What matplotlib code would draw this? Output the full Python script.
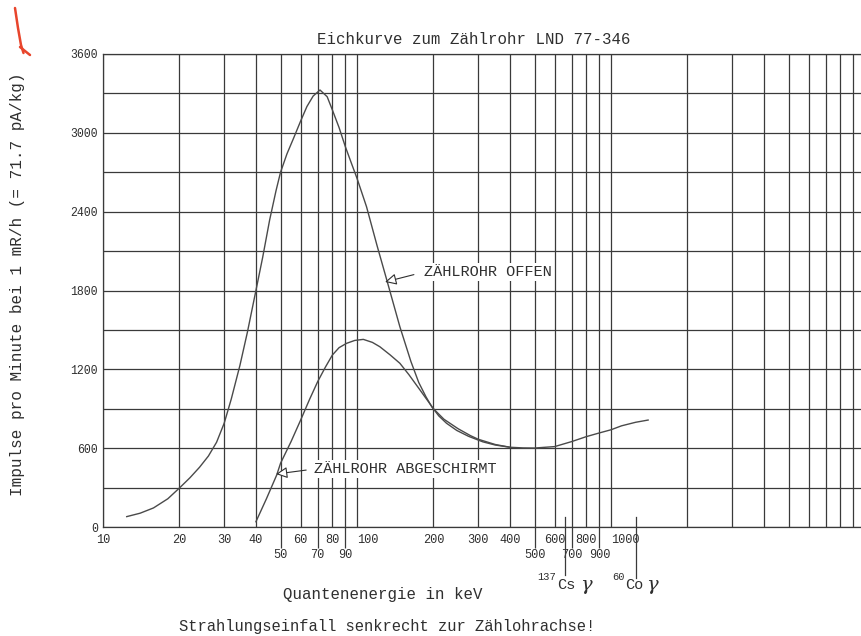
import matplotlib
matplotlib.use("Agg")
import matplotlib.pyplot as plt
from matplotlib.ticker import FixedLocator, FixedFormatter
from matplotlib.lines import Line2D
import matplotlib.transforms as mtransforms

plt.rcParams['font.family'] = ['Liberation Mono', 'DejaVu Sans Mono']

# ---------------- data ----------------
energy_open = [12.4, 14, 15.8, 18, 20, 22, 24, 26, 28, 30, 32, 34.6, 37, 40,
               42.5, 45.3, 48, 50, 53, 56.3, 60, 63.5, 67.2, 71.5, 76.3, 80,
               85, 90, 95, 100, 109, 120, 131, 147.5, 163, 175, 187, 197, 210,
               225, 247, 275, 313, 350, 400, 450, 500, 600, 700, 800, 900,
               1000, 1100, 1250, 1400]
counts_open = [79, 105, 145, 215, 297, 375, 455, 540, 645, 790, 975, 1230,
               1480, 1800, 2050, 2337, 2560, 2700, 2840, 2960, 3090, 3200,
               3280, 3326, 3275, 3174, 3040, 2894, 2770, 2654, 2438, 2140,
               1880, 1524, 1260, 1100, 990, 915, 845, 790, 735, 690, 648, 624,
               607, 602, 601, 612, 650, 688, 716, 740, 770, 797, 814]

energy_shield = [40, 44, 48.3, 50, 55, 60, 65, 70, 75, 80, 85, 91, 98, 105.9,
                 115, 123, 135, 147.5, 160, 177, 200, 220, 250, 280, 300, 350,
                 400]
counts_shield = [40, 215, 396, 485, 650, 814, 970, 1106, 1215, 1309, 1365,
                 1398, 1420, 1428, 1405, 1372, 1310, 1246, 1160, 1043, 900,
                 820, 748, 695, 668, 628, 607]

x_major_ticks = [10, 20, 30, 40, 60, 80, 100, 200, 300, 400, 600, 800, 1000]
x_major_labels = ['10', '20', '30', '40', '60', '80', '100', '200', '300',
                  '400', '600', '800', '1000']
x_minor_ticks = [50, 70, 90, 500, 700, 900]
x_minor_labels = ['50', '70', '90', '500', '700', '900']
x_grid = [10, 20, 30, 40, 50, 60, 70, 80, 90,
          100, 200, 300, 400, 500, 600, 700, 800, 900,
          1000, 2000, 3000, 4000, 5000, 6000, 7000, 8000, 9000, 10000]
y_ticks = [0, 600, 1200, 1800, 2400, 3000, 3600]
y_grid = [300, 900, 1500, 2100, 2700, 3300]

cs137_energy = 662
co60_energy = 1250

# ---------------- figure ----------------
W, H = 861, 636
fig = plt.figure(figsize=(W / 100, H / 100), dpi=100)
fig.patch.set_facecolor('white')

left, right, top, bottom = 103, 865, 54, 527
ax = fig.add_axes([left / W, 1 - bottom / H, (right - left) / W, (bottom - top) / H])
ax.set_xscale('log')
ax.set_xlim(10, 10000)
ax.set_ylim(0, 3600)

grid_col = '#3a3a3a'
text_col = '#2f2f2f'
curve_col = '#4a4a4a'

for sp in ax.spines.values():
    sp.set_color(grid_col)
    sp.set_linewidth(0.9)

for e in x_grid:
    ax.axvline(e, color=grid_col, lw=0.9, zorder=1)

ax.set_yticks(y_ticks)
ax.yaxis.set_minor_locator(FixedLocator(y_grid))
ax.grid(axis='y', which='both', color=grid_col, lw=0.9, zorder=1)
ax.tick_params(axis='y', which='both', length=0, pad=3.6, labelsize=8.3,
               labelcolor=text_col)

ax.xaxis.set_major_locator(FixedLocator(x_major_ticks))
ax.xaxis.set_major_formatter(FixedFormatter(x_major_labels))
ax.xaxis.set_minor_locator(FixedLocator(x_minor_ticks))
ax.xaxis.set_minor_formatter(FixedFormatter(x_minor_labels))
ax.tick_params(axis='x', which='major', length=0, pad=5, labelsize=8.6,
               labelcolor=text_col)
ax.tick_params(axis='x', which='minor', length=15, width=0.9, color=grid_col,
               direction='out', pad=0.5, labelsize=8.6, labelcolor=text_col)

major_ticks = ax.xaxis.get_major_ticks(len(x_major_ticks))
for i, lab in enumerate(x_major_labels):
    if lab in ('100', '1000'):
        major_ticks[i].label1.set_horizontalalignment('left')

# curves
ax.plot(energy_open, counts_open, color=curve_col, lw=1.0, zorder=3)
ax.plot(energy_shield, counts_shield, color=curve_col, lw=1.0, zorder=3)

# annotations
ax.annotate('ZÄHLROHR OFFEN', xy=(129, 1865), xytext=(184, 1941),
            ha='left', va='center', fontsize=11, color=text_col,
            bbox=dict(boxstyle='square,pad=0.15', fc='white', ec='none'),
            arrowprops=dict(arrowstyle='-|>', fc='white', ec=text_col, lw=0.8,
                            mutation_scale=17, shrinkA=6, shrinkB=0,
                            relpos=(0, 0.5)), zorder=4)
ax.annotate('ZÄHLROHR ABGESCHIRMT', xy=(48, 403), xytext=(67.7, 441),
            ha='left', va='center', fontsize=11, color=text_col,
            bbox=dict(boxstyle='square,pad=0.15', fc='white', ec='none'),
            arrowprops=dict(arrowstyle='-|>', fc='white', ec=text_col, lw=0.8,
                            mutation_scale=17, shrinkA=4, shrinkB=0,
                            relpos=(0, 0.5)), zorder=4)

# isotope markers
trans = mtransforms.blended_transform_factory(ax.transData, ax.transAxes)
ax.plot([cs137_energy, cs137_energy], [10 / 473, -48 / 473], transform=trans,
        color=grid_col, lw=0.9, clip_on=False)
ax.plot([co60_energy, co60_energy], [10 / 473, -51 / 473], transform=trans,
        color=grid_col, lw=0.9, clip_on=False)

def isotope_label(energy, mass, sym, dx_pts, dg_pts):
    ax.annotate(sym, xy=(energy, -48 / 473), xycoords=trans,
                xytext=(dx_pts, -2), textcoords='offset points',
                ha='center', va='top', fontsize=11, color=text_col)
    ax.annotate(mass, xy=(energy, -48 / 473), xycoords=trans,
                xytext=(dx_pts - 7, 2), textcoords='offset points',
                ha='right', va='top', fontsize=7.5, color=text_col)
    ax.annotate('γ', xy=(energy, -48 / 473), xycoords=trans,
                xytext=(dx_pts + dg_pts, -1), textcoords='offset points',
                ha='center', va='top', fontsize=14, color=text_col,
                family='DejaVu Serif', style='italic')

isotope_label(cs137_energy, '137', 'Cs', 0.5, 14.5)
isotope_label(co60_energy, '60', 'Co', -1, 13)

# texts
fig.text(474 / W, 1 - 39 / H, 'Eichkurve zum Zählrohr LND 77-346',
         ha='center', va='center', fontsize=11.3, color=text_col)
fig.text(18 / W, 1 - 284 / H, 'Impulse pro Minute bei 1 mR/h (= 71.7 pA/kg)',
         ha='center', va='center', rotation=90, fontsize=11.5, color=text_col)
fig.text(383 / W, 1 - 595 / H, 'Quantenenergie in keV',
         ha='center', va='center', fontsize=11.3, color=text_col)
fig.text(387 / W, 1 - 626 / H, 'Strahlungseinfall senkrecht zur Zählohrachse!',
         ha='center', va='center', fontsize=11.2, color=text_col)

# red hand-drawn mark
for px, py in (([15, 18, 21, 23.5], [8, 28, 45, 53]),
               ([20, 25, 30], [47, 51, 55])):
    fig.add_artist(Line2D([p / W for p in px], [1 - p / H for p in py],
                          transform=fig.transFigure, color='#e8452c', lw=1.8,
                          solid_capstyle='round'))

fig.savefig('out.png', dpi=100, facecolor='white')
